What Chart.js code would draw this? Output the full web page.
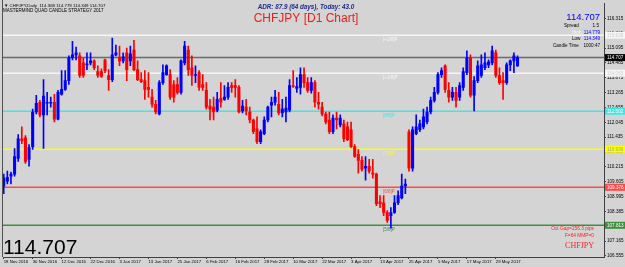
<!DOCTYPE html>
<html>
<head>
<meta charset="utf-8">
<script src="https://cdn.jsdelivr.net/npm/chart.js@4.4.0/dist/chart.umd.min.js"></script>
<style>
  html, body { margin: 0; padding: 0; background: #d4d4d4; }
  #wrap { width: 625px; height: 267px; }
</style>
</head>
<body>
<div id="wrap"><canvas id="chart" width="625" height="267"></canvas></div>
<script>
// CHFJPY daily candles, 18 Nov 2016 .. 5 Jun 2017
const opens = [
  109.43, 109.63, 109.83, 109.92, 110.56, 111.37, 111.41, 110.52, 111.05, 112.47,
  112.87, 112.35, 112.83, 112.83, 112.87, 112.18, 113.20, 113.40, 113.76, 114.70,
  114.82, 114.78, 114.49, 114.41, 114.49, 114.57, 114.13, 114.13, 114.61, 113.97,
  113.80, 114.82, 114.70, 114.57, 114.90, 114.57, 115.02, 114.21, 113.80, 113.76,
  113.48, 113.08, 112.79, 112.39, 113.68, 114.01, 114.01, 113.60, 113.60, 113.28,
  114.49, 115.02, 114.29, 113.97, 114.09, 113.60, 113.36, 112.71, 112.67, 112.55,
  113.03, 112.99, 113.08, 113.56, 113.56, 113.48, 112.51, 112.67, 112.47, 112.14,
  111.78, 111.25, 111.58, 112.14, 112.75, 112.87, 112.79, 112.43, 112.47, 112.55,
  113.56, 113.44, 113.48, 114.01, 113.68, 113.36, 113.68, 112.87, 112.67, 112.39,
  112.14, 111.66, 112.22, 111.94, 111.98, 111.86, 111.74, 111.05, 110.73, 110.48,
  110.16, 110.24, 109.96, 109.92, 108.78, 108.74, 108.34, 108.21, 108.34, 108.74,
  108.94, 109.43, 111.66, 110.16, 111.58, 111.74, 111.86, 112.06, 112.47, 112.95,
  113.28, 114.01, 114.37, 113.36, 113.08, 113.28, 113.08, 113.48, 114.09, 114.70,
  113.16, 113.76, 113.97, 114.29, 114.41, 114.49, 114.90, 113.97, 113.76, 113.68,
  114.41, 114.57, 114.368
];
const highs = [
  109.92, 110.04, 110.00, 110.97, 111.54, 111.86, 111.50, 111.13, 112.59, 113.16,
  112.95, 113.80, 113.28, 113.08, 113.20, 113.36, 114.17, 114.17, 114.78, 115.38,
  115.14, 114.90, 114.70, 114.90, 114.90, 114.61, 114.37, 114.25, 114.65, 114.21,
  115.51, 115.22, 115.18, 114.90, 115.10, 115.18, 115.42, 114.57, 114.09, 114.17,
  114.09, 113.40, 112.95, 113.76, 114.41, 114.41, 114.21, 113.76, 113.89, 114.61,
  115.38, 115.18, 114.78, 114.37, 114.17, 114.01, 113.68, 112.99, 113.08, 113.28,
  113.68, 113.56, 113.68, 113.68, 113.80, 113.56, 112.95, 112.99, 112.67, 112.18,
  112.27, 111.74, 112.27, 112.71, 113.08, 113.36, 113.28, 112.99, 113.08, 113.80,
  114.17, 113.89, 114.29, 114.29, 113.89, 113.89, 113.76, 113.28, 112.87, 112.47,
  112.47, 112.35, 112.47, 112.35, 112.14, 112.06, 112.06, 111.13, 110.93, 110.64,
  110.64, 110.52, 110.52, 109.96, 109.03, 109.03, 108.42, 108.54, 109.03, 109.23,
  109.92, 109.71, 111.74, 111.86, 112.35, 112.14, 112.59, 112.67, 113.08, 113.48,
  114.09, 114.29, 114.41, 113.68, 113.48, 113.48, 113.68, 114.29, 114.98, 114.82,
  113.93, 114.57, 114.82, 114.90, 114.61, 115.18, 115.02, 114.29, 114.09, 114.49,
  114.61, 114.90, 114.779
];
const lows = [
  109.11, 109.51, 109.51, 109.83, 110.44, 111.17, 110.36, 110.24, 110.93, 112.39,
  112.27, 110.97, 112.35, 112.67, 112.06, 112.14, 113.16, 113.36, 113.60, 114.61,
  114.61, 113.89, 113.89, 114.21, 114.41, 114.21, 113.89, 113.89, 114.09, 113.36,
  113.72, 114.78, 114.37, 114.49, 113.76, 114.37, 114.17, 113.76, 113.68, 112.99,
  113.08, 112.67, 112.39, 112.35, 113.60, 113.97, 112.99, 112.87, 113.20, 113.20,
  114.41, 113.97, 113.56, 113.68, 113.36, 113.36, 112.59, 112.14, 112.14, 112.47,
  112.67, 112.95, 112.99, 113.28, 113.08, 112.43, 112.43, 112.35, 112.02, 111.58,
  111.17, 111.17, 111.54, 112.06, 112.27, 112.75, 112.35, 112.27, 112.06, 112.47,
  113.48, 113.28, 113.20, 113.48, 113.28, 113.24, 112.67, 112.59, 112.31, 111.98,
  111.58, 111.58, 111.78, 111.86, 111.25, 111.29, 111.01, 110.60, 109.96, 110.04,
  109.67, 109.96, 109.75, 108.62, 108.54, 108.21, 107.93, 107.69, 108.30, 108.66,
  108.90, 109.11, 110.04, 110.04, 111.54, 111.66, 111.78, 111.98, 112.39, 112.87,
  113.20, 113.89, 113.28, 112.87, 112.95, 112.67, 112.95, 113.36, 114.01, 113.08,
  112.51, 113.68, 113.89, 114.21, 114.29, 114.41, 113.89, 113.60, 112.99, 113.60,
  114.17, 114.09, 114.349
];
const closes = [
  109.75, 109.79, 109.92, 110.64, 111.37, 111.29, 110.44, 111.01, 112.47, 112.83,
  112.35, 113.12, 112.87, 112.87, 112.18, 113.28, 113.40, 113.76, 114.70, 114.82,
  114.90, 113.97, 113.97, 114.45, 114.57, 114.29, 113.97, 113.93, 114.17, 113.80,
  114.82, 114.90, 114.57, 114.74, 114.21, 114.86, 114.21, 113.80, 113.72, 113.40,
  113.40, 112.79, 112.47, 113.68, 114.09, 114.37, 113.08, 113.08, 113.28, 114.57,
  115.18, 114.21, 113.97, 114.01, 113.48, 113.48, 112.67, 112.59, 112.47, 112.99,
  112.87, 113.08, 113.48, 113.48, 113.48, 112.47, 112.71, 112.51, 112.14, 111.66,
  111.25, 111.66, 112.14, 112.67, 112.87, 113.08, 112.43, 112.59, 112.63, 113.56,
  113.52, 113.52, 114.01, 113.68, 113.36, 113.68, 112.87, 112.79, 112.39, 112.06,
  111.66, 112.22, 112.14, 112.22, 111.37, 111.33, 111.05, 110.64, 110.48, 110.12,
  110.24, 110.04, 109.92, 108.70, 108.70, 108.34, 108.01, 108.34, 108.74, 109.03,
  109.43, 109.51, 110.16, 111.74, 111.86, 111.98, 112.27, 112.47, 112.95, 113.28,
  114.01, 114.17, 113.40, 113.08, 113.28, 112.95, 113.56, 114.13, 114.70, 113.16,
  113.76, 114.37, 114.41, 114.49, 114.53, 114.98, 113.97, 113.68, 113.68, 114.41,
  114.57, 114.78, 114.707
];

const dateLabels = ['18 Nov 2016', '30 Nov 2016', '12 Dec 2016', '22 Dec 2016', '3 Jan 2017',
  '13 Jan 2017', '25 Jan 2017', '6 Feb 2017', '16 Feb 2017', '28 Feb 2017', '10 Mar 2017',
  '22 Mar 2017', '3 Apr 2017', '13 Apr 2017', '25 Apr 2017', '5 May 2017', '17 May 2017', '29 May 2017'];
const barsPerLabel = 8;

const priceTicks = [106.555, 107.165, 107.775, 108.385, 108.995, 109.605, 110.215, 110.825,
  111.435, 112.045, 112.655, 113.265, 113.875, 114.485, 115.095, 115.705, 116.315];

// Murrey math levels (octave gap 156.3 pips)
const mmLevels = [115.628, 114.065, 112.502, 110.939, 109.376, 107.813];
const mmLabels = ['[+2/8]P', '[+1/8]P', '[8/8]P', '[7/8]P', '[6/8]P', '[5/8]P'];
const mmColors = ['#f6f6f6', '#f6f6f6', '#44e4e4', '#ffff00', '#ff4848', '#3f8f3f'];
const mmTextColors = ['#cfcfcf', '#cfcfcf', '#ffffff', '#a0a0a0', '#ffffff', '#ffffff'];

const bid = closes[closes.length - 1];
const upColor = '#0000ff';
const downColor = '#ff0000';
const FONT = 'Liberation Sans';

const idx = opens.map((_, i) => i);
const candleColor = ctx => closes[ctx.dataIndex] >= opens[ctx.dataIndex] ? upColor : downColor;

function text(ctx, str, x, y, font, color, align) {
  ctx.font = font;
  ctx.fillStyle = color;
  ctx.textAlign = align || 'left';
  ctx.textBaseline = 'alphabetic';
  ctx.fillText(str, x, y);
}

const decor = {
  id: 'decor',
  beforeDraw(chart) {
    const {ctx, width, height} = chart;
    ctx.save();
    ctx.fillStyle = '#d4d4d4';
    ctx.fillRect(0, 0, width, height);
    ctx.restore();
  },
  beforeDatasetsDraw(chart) {
    const {ctx, chartArea: a, scales: {x, y}} = chart;
    ctx.save();
    // left frame line
    ctx.strokeStyle = '#505050';
    ctx.lineWidth = 1;
    ctx.beginPath();
    ctx.moveTo(a.left - 0.5, 0);
    ctx.lineTo(a.left - 0.5, a.bottom);
    ctx.stroke();

    mmLevels.forEach((v, k) => {
      const py = y.getPixelForValue(v);
      ctx.strokeStyle = mmColors[k];
      ctx.lineWidth = 1.6;
      ctx.beginPath();
      ctx.moveTo(a.left, py);
      ctx.lineTo(a.right, py);
      ctx.stroke();
      text(ctx, mmLabels[k], x.getPixelForValue(104.8), py + 5.5, '4.6px "' + FONT + '"', mmColors[k]);
    });

    // bid line
    const by = y.getPixelForValue(bid);
    ctx.strokeStyle = '#6a6a6a';
    ctx.lineWidth = 1.5;
    ctx.beginPath();
    ctx.moveTo(a.left, by);
    ctx.lineTo(a.right, by);
    ctx.stroke();
    ctx.restore();
  },
  afterDraw(chart) {
    const {ctx, chartArea: a, scales: {y}} = chart;
    ctx.save();
    // price markers on the right axis
    const markers = mmLevels.map((v, k) => [v, mmColors[k], mmTextColors[k]]);
    markers.push([bid, '#000000', '#ffffff']);
    markers.forEach(([v, bg, fg]) => {
      const py = y.getPixelForValue(v);
      ctx.fillStyle = bg;
      ctx.fillRect(a.right + 1, py - 3.5, 21, 7);
      text(ctx, v.toFixed(3), a.right + 3, py + 1.7, '4.6px "' + FONT + '"', fg);
    });

    // top-left header
    text(ctx, '\u25BC CHFJPY,Daily  114.368 114.779 114.349 114.707', 4, 6.5, '4.4px "' + FONT + '"', '#000');
    text(ctx, 'MASTERMIND QUAD CANDLE STRATEGY 2017', 3, 12, '4.5px "' + FONT + '"', '#000');

    // centre titles
    text(ctx, 'ADR: 87.9 (64 days), Today: 43.0', 306, 8.5, 'italic bold 6.3px "' + FONT + '"', '#1e2a8c', 'center');
    text(ctx, 'CHFJPY [D1 Chart]', 306, 22, '12px "' + FONT + '"', '#f01c1c', 'center');

    // info box top right
    text(ctx, '114.707', 600, 20, '9.5px "' + FONT + '"', '#0000ff', 'right');
    text(ctx, 'Spread', 564, 27, '4.6px "' + FONT + '"', '#000');
    text(ctx, '1.5', 599, 27, '4.6px "' + FONT + '"', '#000', 'right');
    text(ctx, 'High', 572, 33.5, '4.6px "' + FONT + '"', '#f4f4f4');
    text(ctx, '114.779', 600, 33.5, '4.6px "' + FONT + '"', '#0000ff', 'right');
    text(ctx, 'Low', 572, 40, '4.6px "' + FONT + '"', '#000');
    text(ctx, '114.349', 600, 40, '4.6px "' + FONT + '"', '#0000ff', 'right');
    text(ctx, 'Candle Time', 553, 46.5, '4.6px "' + FONT + '"', '#000');
    text(ctx, '1000:47', 600, 46.5, '4.6px "' + FONT + '"', '#000', 'right');

    // bottom texts
    text(ctx, '114.707', 3, 253.5, '21px "' + FONT + '"', '#000');
    text(ctx, 'Oct Gap=156.3 pips', 594, 230, '4.8px "' + FONT + '"', '#ff2020', 'right');
    text(ctx, 'F=64 MMP=0', 594, 237, '4.8px "' + FONT + '"', '#ff2020', 'right');
    text(ctx, 'CHFJPY', 594, 247.5, '8px "Liberation Serif"', '#ff2020', 'right');
    ctx.restore();
  }
};

new Chart(document.getElementById('chart'), {
  type: 'bar',
  data: {
    datasets: [
      {
        label: 'wick',
        data: idx.map(i => ({x: i, y: [lows[i], highs[i]]})),
        backgroundColor: candleColor,
        barThickness: 1,
        grouped: false,
        order: 2
      },
      {
        label: 'body',
        data: idx.map(i => ({x: i, y: [opens[i], closes[i]]})),
        backgroundColor: candleColor,
        barThickness: 2.4,
        minBarLength: 1,
        grouped: false,
        order: 1
      }
    ]
  },
  options: {
    responsive: false,
    animation: false,
    layout: { padding: { left: 3, top: 0, right: 0, bottom: 0 } },
    plugins: { legend: { display: false }, tooltip: { enabled: false } },
    scales: {
      x: {
        type: 'linear',
        min: -0.2,
        max: 165.9,
        offset: false,
        afterBuildTicks: s => { s.ticks = dateLabels.map((_, k) => ({value: k * barsPerLabel})); },
        afterFit: s => { s.height = 10; },
        grid: { drawOnChartArea: false, drawTicks: true, tickLength: 2, color: '#404040', offset: false },
        border: { display: true, color: '#404040', width: 1 },
        ticks: {
          autoSkip: false, maxRotation: 0, minRotation: 0, align: 'start', padding: 0,
          color: '#000', font: { family: FONT, size: 4.3 },
          callback: (v, k) => dateLabels[k]
        }
      },
      y: {
        type: 'linear',
        position: 'right',
        min: 106.51,
        max: 116.92,
        afterBuildTicks: s => { s.ticks = priceTicks.map(v => ({value: v})); },
        afterFit: s => { s.width = 21; },
        grid: { drawOnChartArea: false, drawTicks: true, tickLength: 2, color: '#404040' },
        border: { display: true, color: '#404040', width: 1 },
        ticks: {
          padding: 1, color: '#000', font: { family: FONT, size: 4.6 },
          callback: v => v.toFixed(3)
        }
      }
    }
  },
  plugins: [decor]
});
</script>
</body>
</html>
